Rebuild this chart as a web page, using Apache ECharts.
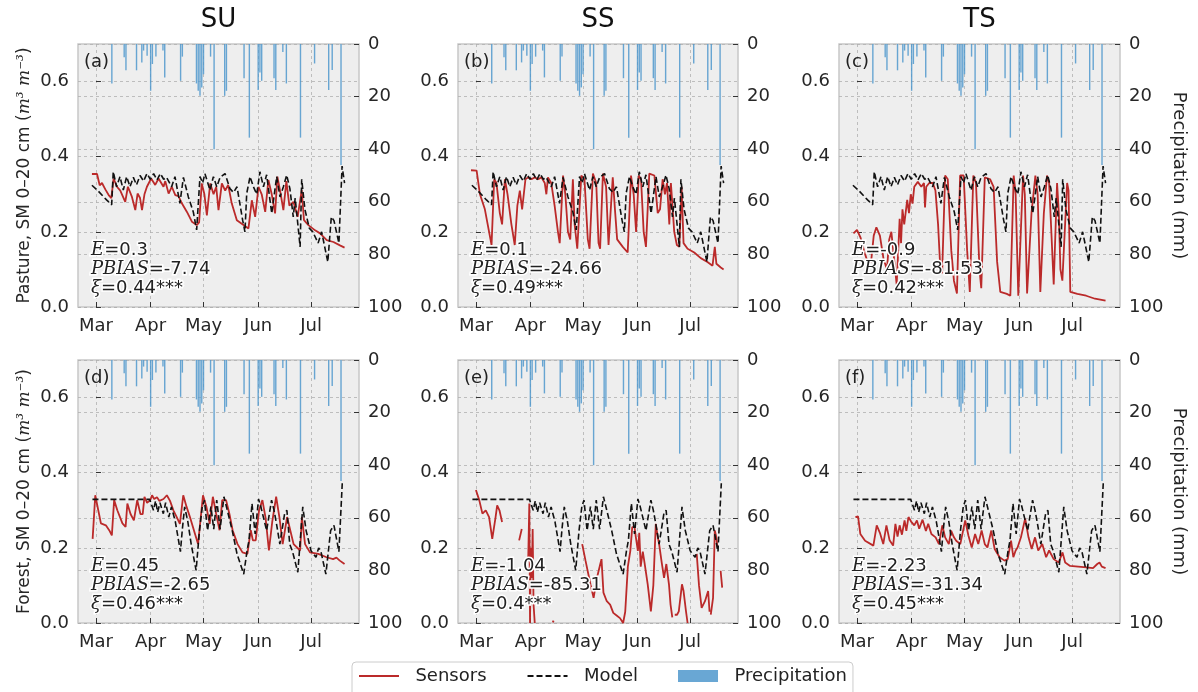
<!DOCTYPE html>
<html>
<head>
<meta charset="utf-8">
<script src="https://cdn.jsdelivr.net/npm/echarts@6/dist/echarts.min.js"></script>
<style>
  html, body { margin: 0; padding: 0; background: #fff; }
  #chart { width: 1198px; height: 692px; }
</style>
</head>
<body>
<div id="chart"></div>
<script>
// day offsets from 1 March; month ticks
var monthDays = [0, 31, 61, 92, 122];
var monthLabels = ['Mar', 'Apr', 'May', 'Jun', 'Jul'];
var smTicks = [0, 0.2, 0.4, 0.6];
var GAP = null;

// daily precipitation [day, mm] (same gauge in every panel)
var precip = [[9,15],[16,5],[17,10],[23,10],[26,7],[27,2.5],[29,4.5],[31,17.8],[32,7.6],[34,4.8],[38,2.5],[39,12.7],
  [48,14],[49,4.8],[57,15],[58,17.8],[59,19.7],[60,16.5],[61,11.5],[65,4.8],[67,40],[73,19.7],[74,17.8],
  [84,13],[87,35.6],[92,17.5],[93,10.8],[94,14],[101,13],[102,17.5],[106,3],[108,15],[116,35.6],
  [124,7.4],[132,17.5],[134,9.9],[139,46]];

// model soil moisture, pasture and forest
var modelPasture = [[-2.3,0.324],[1,0.31],[4,0.295],[6,0.285],[8.9,0.272],[9.8,0.36],[11.7,0.32],[13.6,0.347],[15.5,0.311],
  [17.4,0.347],[19.3,0.32],[21.2,0.345],[23,0.325],[25,0.35],[27,0.335],[28.9,0.355],[30.8,0.34],[32.7,0.355],
  [34.6,0.338],[36.5,0.355],[38.4,0.34],[40,0.345],[42.9,0.32],[44.8,0.347],[47.6,0.276],[49.6,0.345],[52.4,0.293],
  [55.2,0.253],[57.1,0.205],[59,0.347],[60.5,0.33],[61.8,0.355],[64.7,0.311],[66.6,0.347],[68.5,0.32],[70.4,0.345],
  [73.2,0.355],[76,0.315],[78,0.305],[80,0.32],[83.2,0.231],[84.5,0.2],[85.5,0.302],[87.4,0.347],[89.3,0.32],[91.2,0.30],
  [93,0.36],[95,0.32],[96.8,0.352],[99.7,0.249],[102.5,0.347],[104.4,0.293],[106.3,0.32],[108.2,0.351],[110,0.315],
  [111.9,0.24],[113,0.29],[115.8,0.16],[116.7,0.34],[118.5,0.26],[121,0.21],[123,0.2],[126,0.17],[128,0.2],
  [131.5,0.12],[133.5,0.24],[135,0.23],[137.8,0.17],[139.6,0.375],[141,0.33]];
var modelForest = [[-2,0.329],[30.5,0.329],[31.5,0.33],[32.6,0.30],[33.8,0.325],[35,0.295],[36.3,0.32],[38.2,0.291],
  [39.5,0.32],[41.3,0.282],[42.8,0.309],[45,0.27],[47.9,0.19],[49,0.25],[50.3,0.309],[52.1,0.27],[54,0.21],
  [56.8,0.14],[58.7,0.246],[60.3,0.31],[61.5,0.327],[63.3,0.246],[65.2,0.31],[66.8,0.25],[68.5,0.327],[70.4,0.25],
  [72.6,0.336],[74.5,0.30],[77.3,0.246],[80,0.184],[83.8,0.13],[85.7,0.192],[86.8,0.22],[88.5,0.318],[90.3,0.237],
  [92.2,0.33],[93.5,0.31],[96.8,0.246],[99.6,0.327],[101,0.30],[102.4,0.264],[104.3,0.21],[107,0.291],[108.3,0.30],
  [109.9,0.21],[111.5,0.19],[114.5,0.135],[117.3,0.309],[119.2,0.246],[122,0.192],[124.8,0.175],[126.3,0.2],
  [127.6,0.19],[130.4,0.13],[133.1,0.246],[135,0.26],[137.8,0.19],[139.7,0.372]];

// sensor soil moisture per site
var sensorsA = [[-2.3,0.354],[0.6,0.354],[2.1,0.324],[3.4,0.33],[5.3,0.313],[7.2,0.298],[8.7,0.29],[10,0.342],[11.9,0.32],
  [13.8,0.31],[16.6,0.28],[18.1,0.32],[20.4,0.293],[22.3,0.258],[23.6,0.302],[25,0.29],[26.1,0.258],[27.5,0.30],
  [28.9,0.32],[30,0.315],[31.3,0.342],[33.6,0.325],[35.5,0.342],[38.3,0.32],[39.3,0.335],[41.2,0.302],[43,0.32],
  [45,0.298],[46.8,0.295],[48.7,0.276],[51.6,0.253],[54.4,0.227],[57.2,0.218],[58.5,0.225],[60,0.329],[61.5,0.30],
  [62.9,0.244],[64.8,0.329],[66.7,0.30],[68.2,0.32],[69.5,0.258],[71.4,0.329],[73.3,0.31],[75,0.325],[77,0.276],
  [79.9,0.231],[83.7,0.218],[86.5,0.209],[88.4,0.284],[90.3,0.24],[92.2,0.32],[94,0.30],[96,0.253],[97.8,0.338],
  [99.7,0.30],[101.6,0.249],[102.9,0.347],[104.8,0.30],[106.3,0.258],[108,0.335],[109.7,0.27],[112,0.28],
  [114.4,0.24],[116.7,0.311],[118,0.231],[120.5,0.218],[124.3,0.204],[127.1,0.196],[130.9,0.178],[134.7,0.173],
  [138.4,0.164],[141,0.158]];
var sensorsB = [[-2.8,0.364],[0.4,0.363],[2.3,0.30],[5.1,0.26],[7.9,0.19],[8.9,0.165],[10.4,0.34],[11.7,0.33],[13.6,0.25],
  [14.9,0.22],[16.5,0.34],[18,0.30],[20.2,0.22],[22.1,0.165],[23.6,0.27],[25,0.31],[26.3,0.26],[28.2,0.34],
  [29.7,0.345],[31.6,0.34],[33.5,0.345],[35.4,0.34],[37.3,0.345],[39.2,0.33],[40.1,0.30],[41,0.345],[42.9,0.33],
  [44.8,0.27],[46.7,0.20],[47.7,0.17],[49.6,0.35],[50.9,0.30],[52.4,0.20],[53.7,0.18],[55.2,0.34],[56.2,0.22],
  [57.7,0.155],[58.6,0.15],[60,0.35],[61.8,0.34],[63.7,0.18],[64.7,0.155],[66.6,0.355],[68.5,0.33],[69.8,0.17],
  [70.7,0.155],[72.3,0.355],[74.1,0.32],[75.5,0.165],[76.6,0.16],[77.9,0.345],[79.3,0.25],[80.4,0.18],[83.6,0.16],
  [86.4,0.145],[88.3,0.35],[89.8,0.30],[91.2,0.20],[92.7,0.35],[94,0.34],[95.5,0.20],[96.8,0.16],[98.7,0.355],
  [101.6,0.35],[103.5,0.25],[104.8,0.26],[106.3,0.34],[107.6,0.30],[108.8,0.33],[110.1,0.22],[111,0.33],
  [112.9,0.20],[114.4,0.165],[115.8,0.16],[117.1,0.32],[118.2,0.17],[120.5,0.155],[124.3,0.145],[128,0.13],
  [131.8,0.12],[134.7,0.11],[136,0.16],[136.9,0.115],[139.4,0.105],[141,0.10]];
var sensorsC = [[-2,0.196],[0,0.205],[2,0.185],[4,0.15],[6,0.12],[8,0.12],[9.5,0.19],[11,0.212],[13,0.19],[15,0.13],
  [17,0.10],[18.3,0.18],[19.5,0.20],[21,0.13],[22.5,0.06],[23.5,0.16],[24.2,0.235],[25,0.17],[25.8,0.26],[26.8,0.22],
  [28.5,0.285],[29.5,0.25],[30.5,0.30],[31.5,0.275],[32.5,0.32],[34.5,0.333],[36.5,0.32],[38,0.33],[38.6,0.265],
  [39.3,0.32],[41,0.33],[43,0.33],[44.5,0.31],[46,0.22],[47.3,0.10],[48.3,0.09],[50,0.35],[51.5,0.34],[53.5,0.15],
  [55,0.07],[56.7,0.036],[58.5,0.35],[60.5,0.35],[62.5,0.15],[64,0.04],[66,0.35],[67.5,0.33],[69.5,0.10],[70.5,0.05],
  [72.5,0.345],[75.5,0.34],[77.5,0.32],[79.5,0.12],[81.3,0.04],[85,0.035],[87,0.03],[88.9,0.35],[90,0.30],
  [91.5,0.03],[94.2,0.35],[95.2,0.30],[96.5,0.036],[99,0.25],[101.2,0.35],[102.5,0.30],[104,0.04],[106,0.25],
  [107.8,0.35],[109,0.33],[111.6,0.06],[113.5,0.33],[114.5,0.25],[115.4,0.10],[116.5,0.07],[119.2,0.33],[120,0.31],
  [121,0.04],[125,0.035],[130,0.03],[135,0.022],[141,0.017]];
var sensorsD = [[-1.9,0.224],[-0.4,0.34],[1.3,0.30],[2.8,0.265],[5.6,0.26],[7.5,0.247],[9,0.233],[10.3,0.327],[12.1,0.30],
  [15,0.265],[16.8,0.256],[17.8,0.318],[19.6,0.29],[21.5,0.273],[23.4,0.327],[25.2,0.29],[26.5,0.29],[27.5,0.336],
  [29,0.32],[30.8,0.327],[31.8,0.34],[33,0.33],[34.6,0.335],[36,0.325],[38.3,0.33],[40.2,0.34],[42,0.325],
  [43.9,0.30],[45.8,0.282],[47.6,0.264],[49.5,0.34],[51.4,0.309],[53.3,0.282],[56.1,0.238],[57.9,0.21],[60.7,0.34],
  [62.6,0.31],[64.5,0.264],[66.3,0.336],[68.2,0.29],[70.1,0.247],[71.6,0.327],[73.8,0.327],[75.7,0.29],[77.5,0.247],
  [80.3,0.21],[83.1,0.188],[85.9,0.184],[87.8,0.247],[89,0.22],[90.6,0.22],[92.5,0.30],[94.4,0.327],[96.2,0.28],
  [98.1,0.193],[100,0.27],[102.2,0.336],[104.1,0.28],[105.9,0.21],[108.4,0.282],[110.2,0.247],[112.1,0.21],
  [115.8,0.193],[116.8,0.282],[118.6,0.21],[121.4,0.188],[126.1,0.184],[130.8,0.175],[134.5,0.17],[136.4,0.174],
  [138.3,0.166],[141,0.157]];
var sensorsE = [[0,0.354],[1.9,0.327],[3.7,0.291],[5.6,0.30],[7.5,0.282],[9.3,0.224],[11.2,0.282],[12.1,0.313],[13.4,0.30],
  [14.9,0.269],GAP,[24.6,0.22],[26.1,0.25],GAP,[29.8,0.175],[30.4,0.318],[30.8,0.0],[31.3,0.20],[31.8,0.12],
  [32.3,0.25],[32.8,0.05],[33.5,0.0],GAP,[43.5,0.005],[44.5,0.003],GAP,[60.5,0.21],[62.4,0.166],[65.2,0.103],
  [67,0.067],[68.9,0.12],[70.8,0.157],[71.5,0.17],[72.6,0.081],[74.5,0.058],[76.4,0.049],[78.2,0.027],[80.1,0.02],
  [82,0.013],[83.8,0.0],[85,0.03],[86.5,0.15],[87.9,0.192],[89,0.255],[90.3,0.255],[91,0.23],[92.2,0.192],
  [93,0.24],[93.8,0.15],[95,0.19],[96,0.16],[97.8,0.103],[99.6,0.031],[101,0.10],[102.4,0.264],[103.5,0.23],
  [104.3,0.21],[105.8,0.16],[107.1,0.12],[108.4,0.157],[109.9,0.103],[110.8,0.049],[111.8,0.015],GAP,
  [113.2,0.022],[114.5,0.022],[115.5,0.031],[117.3,0.103],[118.2,0.085],[119.6,0.031],[120.5,0.0],GAP,
  [125.7,0.184],[127,0.10],[128.5,0.04],[130.4,0.058],[132.2,0.085],[133,0.03],GAP,[133.7,0.022],[135,0.067],
  [136,0.246],[136.9,0.228],[137.5,0.20],GAP,[139.3,0.139],[140.2,0.094]];
var sensorsF = [[-0.9,0.282],[0.6,0.284],[1.9,0.237],[4.6,0.219],[9.3,0.206],[11.2,0.26],[13,0.24],[14.9,0.21],[16.7,0.26],
  [18.5,0.22],[20.5,0.206],[21.8,0.264],[23,0.23],[24.2,0.26],[25.5,0.235],[27,0.273],[28,0.245],[29.2,0.282],
  [30.7,0.27],[32.5,0.26],[34,0.273],[35.3,0.251],[37.2,0.275],[39.1,0.245],[40.4,0.264],[42.2,0.237],[44.6,0.228],
  [46.5,0.21],[48.4,0.26],[50,0.228],[52.1,0.21],[53.4,0.246],[55,0.228],[56.3,0.219],[58.6,0.21],[61.4,0.273],
  [63.2,0.233],[65.1,0.201],[67,0.237],[68.8,0.21],[70.7,0.246],[72.5,0.21],[74,0.201],[76.2,0.246],[78.1,0.197],
  [80.9,0.175],[83.7,0.166],[85.5,0.17],[87.4,0.219],[88.7,0.175],[90,0.193],[91.1,0.201],[93,0.228],[95.4,0.278],
  [97.3,0.228],[99.1,0.197],[101,0.228],[102.8,0.193],[105.1,0.21],[107.3,0.175],[109,0.193],[111.6,0.17],
  [114.4,0.161],[116.6,0.188],[118.1,0.161],[120.9,0.152],[125.5,0.15],[130.2,0.148],[133.9,0.146],[136.3,0.157],
  [137.6,0.161],[138.9,0.15],[141,0.146]];

var colTitles = ['SU', 'SS', 'TS'];
var rowNames = ['Pasture', 'Forest'];
var panelTags = ['(a)', '(b)', '(c)', '(d)', '(e)', '(f)'];
var statE = ['0.3', '0.1', '-0.9', '0.45', '-1.04', '-2.23'];
var statPBIAS = ['-7.74', '-24.66', '-81.53', '-2.65', '-85.31', '-31.34'];
var statXi = ['0.44***', '0.49***', '0.42***', '0.46***', '0.4***', '0.45***'];
var sensorSets = [sensorsA, sensorsB, sensorsC, sensorsD, sensorsE, sensorsF];
var modelSets = [modelPasture, modelPasture, modelPasture, modelForest, modelForest, modelForest];

// layout
var gridLeft = [78, 458, 839];
var gridWidth = [281, 280, 281];
var gridTop = [44, 360];
var gridHeight = 263;
var FONT = 'DejaVu Sans';
var textColor = '#262626';
var gridLineStyle = { color: '#b0b0b0', width: 0.8, type: [3, 3] };

function toPairs(arr) {
  return arr.map(function (p) { return p === null ? ['-', '-'] : p; });
}

var grids = [], xAxes = [], yAxes = [], series = [], titles = [];

colTitles.forEach(function (t, c) {
  titles.push({
    text: t, left: gridLeft[c] + gridWidth[c] / 2, top: 7, textAlign: 'center', padding: 0,
    textStyle: { fontFamily: FONT, fontSize: 26, fontWeight: 'normal', color: '#111' }
  });
});

for (var i = 0; i < 6; i++) {
  var r = Math.floor(i / 3), c = i % 3;
  grids.push({
    left: gridLeft[c], top: gridTop[r], width: gridWidth[c], height: gridHeight,
    show: true, backgroundColor: '#eeeeee', borderColor: '#c8c8c8', borderWidth: 1.5
  });
  xAxes.push({
    type: 'value', gridIndex: i, min: -10.2, max: 149.2,
    axisLine: { show: false },
    axisTick: { show: true, inside: true, length: 5, customValues: monthDays, lineStyle: { color: '#333' } },
    axisLabel: {
      customValues: monthDays, margin: 10, fontFamily: FONT, fontSize: 18, color: textColor,
      formatter: function (v) { return monthLabels[monthDays.indexOf(v)]; }
    },
    splitLine: { show: true, lineStyle: gridLineStyle }
  });
  yAxes.push({
    type: 'value', gridIndex: i, min: 0, max: 0.7, position: 'left',
    name: c === 0 ? rowNames[r] + ', SM 0–20 cm ({i|m³ m⁻³})' : '',
    nameLocation: 'middle', nameRotate: 90, nameGap: 45,
    nameTextStyle: {
      fontFamily: FONT, fontSize: 17, color: textColor,
      rich: { i: { fontFamily: 'DejaVu Serif', fontStyle: 'italic', fontSize: 17, color: textColor } }
    },
    axisLine: { show: false },
    axisTick: { show: true, inside: true, length: 5, customValues: smTicks, lineStyle: { color: '#333' } },
    axisLabel: {
      customValues: smTicks, margin: 9, fontFamily: FONT, fontSize: 18, color: textColor,
      formatter: function (v) { return v.toFixed(1); }
    },
    splitLine: { show: true, lineStyle: gridLineStyle }
  });
  yAxes.push({
    type: 'value', gridIndex: i, min: 0, max: 100, interval: 20, inverse: true, position: 'right',
    name: c === 2 ? 'Precipitation (mm)' : '',
    nameLocation: 'middle', nameRotate: -90, nameGap: 50,
    nameTextStyle: { fontFamily: FONT, fontSize: 18, color: textColor },
    axisLine: { show: false },
    axisTick: { show: true, inside: true, length: 5, lineStyle: { color: '#333' } },
    axisLabel: { margin: 9, fontFamily: FONT, fontSize: 18, color: textColor },
    splitLine: { show: true, lineStyle: gridLineStyle }
  });

  series.push({
    name: 'Precipitation', type: 'bar', xAxisIndex: i, yAxisIndex: 2 * i + 1,
    barWidth: 1.4, z: 1, itemStyle: { color: '#4f98cc', opacity: 0.85 },
    data: precip
  });
  series.push({
    name: 'Sensors', type: 'line', xAxisIndex: i, yAxisIndex: 2 * i, z: 3,
    symbol: 'none', showSymbol: false, connectNulls: false,
    lineStyle: { color: '#bb2a2a', width: 1.8 }, itemStyle: { color: '#bb2a2a' },
    data: toPairs(sensorSets[i])
  });
  series.push({
    name: 'Model', type: 'line', xAxisIndex: i, yAxisIndex: 2 * i, z: 4,
    symbol: 'none', showSymbol: false,
    lineStyle: { color: '#111', width: 1.6, type: [6, 3] }, itemStyle: { color: '#111' },
    data: modelSets[i]
  });

  titles.push({
    text: panelTags[i], left: gridLeft[c] + 6, top: gridTop[r] + 9, padding: 0,
    textStyle: { fontFamily: FONT, fontSize: 18, fontWeight: 'normal', color: '#222' }
  });
  var halo = { textBorderColor: '#fff', textBorderWidth: 3 };
  titles.push({
    text: '{m|E}=' + statE[i] + '\n{m|PBIAS}=' + statPBIAS[i] + '\n{m|ξ}=' + statXi[i],
    left: gridLeft[c] + 13, top: gridTop[r] + 197, padding: 0,
    textStyle: Object.assign({
      fontFamily: FONT, fontSize: 18, fontWeight: 'normal', color: '#222', lineHeight: 19,
      rich: {
        m: Object.assign({ fontFamily: 'DejaVu Serif', fontStyle: 'italic', fontSize: 18, color: '#222', lineHeight: 19 }, halo)
      }
    }, halo)
  });
}

var hiddenMarker = { opacity: 0, color: 'rgba(0,0,0,0)', borderWidth: 0 };
var chart = echarts.init(document.getElementById('chart'), null, { renderer: 'canvas' });
chart.setOption({
  animation: false,
  backgroundColor: '#fff',
  title: titles,
  grid: grids,
  xAxis: xAxes,
  yAxis: yAxes,
  legend: {
    left: 352, top: 662, itemWidth: 40, itemHeight: 12, itemGap: 40,
    padding: [5, 6, 14, 6], borderColor: '#cccccc', borderWidth: 1, borderRadius: 4,
    backgroundColor: 'rgba(255,255,255,0.9)',
    textStyle: { fontFamily: FONT, fontSize: 18, color: '#222' },
    formatter: function (name) { return '  ' + name; },
    data: [
      { name: 'Sensors', itemStyle: hiddenMarker },
      { name: 'Model', itemStyle: hiddenMarker },
      { name: 'Precipitation', icon: 'rect' }
    ]
  },
  series: series
});
</script>
</body>
</html>
